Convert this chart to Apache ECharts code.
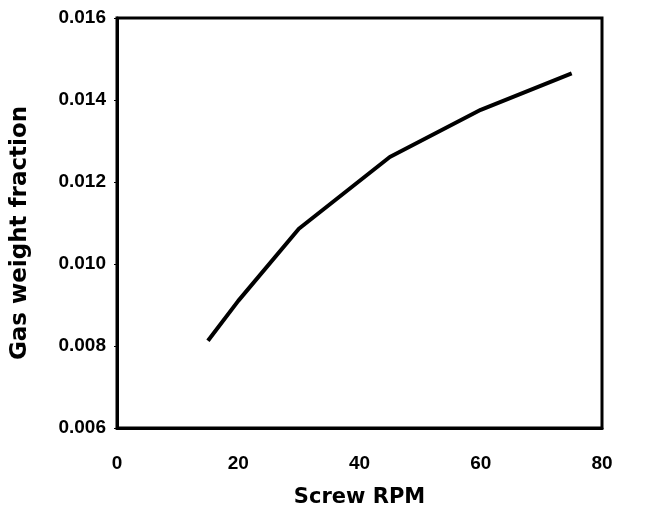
<!DOCTYPE html>
<html>
<head>
<meta charset="utf-8">
<script src="https://cdn.jsdelivr.net/npm/echarts@6/dist/echarts.min.js"></script>
<style>
  html, body { margin: 0; padding: 0; background: #fff; }
  #chart { width: 645px; height: 515px; }
</style>
</head>
<body>
<div id="chart"></div>
<script>
// Screw speed (RPM) and resulting gas weight fraction
const screwRpm = [15, 20, 30, 45, 60, 75];
const gasFraction = [0.00813, 0.0091, 0.01086, 0.01261, 0.01376, 0.01465];

const xTicks = { min: 0, max: 80, interval: 20 };
const yTicks = { min: 0.006, max: 0.016, interval: 0.002 };

const chart = echarts.init(document.getElementById('chart'), null, { renderer: 'canvas' });
const labelFont = 'Arial, "Liberation Sans", sans-serif';
const titleFont = '"DejaVu Sans", Arial, sans-serif';

chart.setOption({
  animation: false,
  backgroundColor: '#fff',
  grid: { left: 117, right: 43, top: 18, bottom: 87, show: true, borderColor: '#000', borderWidth: 3, backgroundColor: 'transparent' },
  xAxis: {
    type: 'value',
    min: xTicks.min, max: xTicks.max, interval: xTicks.interval,
    name: 'Screw RPM', nameLocation: 'middle', nameGap: 59,
    nameTextStyle: { color: '#000', fontFamily: titleFont, fontWeight: 'bold', fontSize: 21 },
    axisLine: { show: true, lineStyle: { color: '#000', width: 3 } },
    axisTick: { show: false },
    axisLabel: { color: '#000', fontFamily: labelFont, fontWeight: 'bold', fontSize: 19, margin: 26 },
    splitLine: { show: false }
  },
  yAxis: {
    type: 'value',
    min: yTicks.min, max: yTicks.max, interval: yTicks.interval,
    name: 'Gas weight fraction', nameLocation: 'middle', nameGap: 85, nameRotate: 90,
    nameTextStyle: { color: '#000', fontFamily: titleFont, fontWeight: 'bold', fontSize: 23, padding: [0, 20, 0, 0] },
    axisLine: { show: true, lineStyle: { color: '#000', width: 3 } },
    axisTick: { show: true, inside: false, length: 3, lineStyle: { color: '#000', width: 1 } },
    axisLabel: { color: '#000', fontFamily: labelFont, fontWeight: 'bold', fontSize: 19, margin: 11, formatter: v => v.toFixed(3) },
    splitLine: { show: false }
  },
  series: [{
    type: 'line',
    data: screwRpm.map((x, i) => [x, gasFraction[i]]),
    showSymbol: false,
    lineStyle: { color: '#000', width: 4 },
    smooth: false
  }]
});
</script>
</body>
</html>
